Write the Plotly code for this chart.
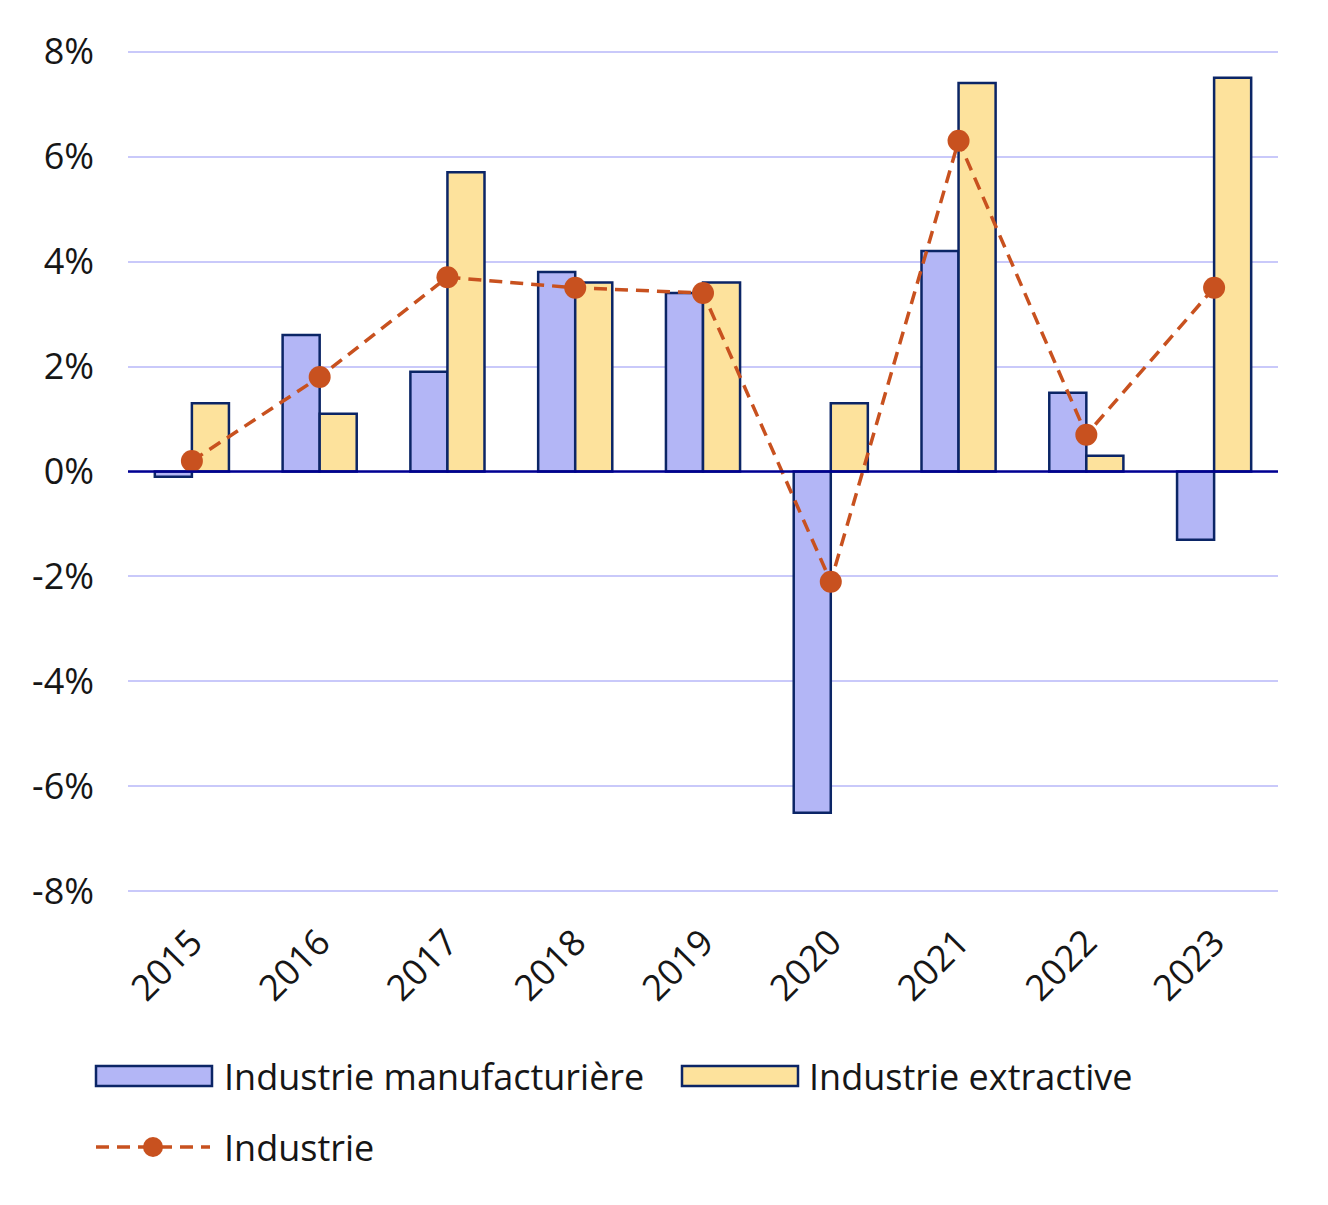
import plotly.graph_objects as go

years = ["2015", "2016", "2017", "2018", "2019", "2020", "2021", "2022", "2023"]
manufacturiere = [-0.1, 2.6, 1.9, 3.8, 3.4, -6.5, 4.2, 1.5, -1.3]
extractive = [1.3, 1.1, 5.7, 3.6, 3.6, 1.3, 7.4, 0.3, 7.5]
industrie = [0.2, 1.8, 3.7, 3.5, 3.4, -2.1, 6.3, 0.7, 3.5]
names = ["Industrie manufacturière", "Industrie extractive", "Industrie"]
ytick_vals = [-8, -6, -4, -2, 0, 2, 4, 6, 8]
ytick_text = ["-8%", "-6%", "-4%", "-2%", "0%", "2%", "4%", "6%", "8%"]

BLUE = "#b3b6f6"
YELLOW = "#fde29c"
OUTLINE = "#0b2566"
ORANGE = "#c8511f"
GRID = "#c9c9fa"
ZERO = "#000091"
FONT = "Open Sans"
FS = 36
TXT = "#161616"

fig = go.Figure()
fig.add_trace(go.Bar(x=years, y=manufacturiere, name=names[0], marker=dict(color=BLUE, line=dict(color=OUTLINE, width=2.5))))
fig.add_trace(go.Bar(x=years, y=extractive, name=names[1], marker=dict(color=YELLOW, line=dict(color=OUTLINE, width=2.5))))
fig.add_trace(go.Scatter(x=years, y=industrie, name=names[2], mode="lines+markers",
                         line=dict(color=ORANGE, width=3.5, dash="13px,8px"),
                         marker=dict(color=ORANGE, size=22)))

L, R, T, B = 128, 50, 50, 312
W, H = 1328, 1205
pw = W - L - R
ph = H - T - B

def px(x):
    return (x - L) / pw

def py(y):
    return (H - B - y) / ph

shapes = [
    dict(type="line", xref="paper", yref="y", x0=0, x1=1, y0=0, y1=0, line=dict(color=ZERO, width=2.5), layer="above"),
    # legend symbols
    dict(type="rect", xref="paper", yref="paper", x0=px(96), x1=px(212), y0=py(1066), y1=py(1086),
         fillcolor=BLUE, line=dict(color=OUTLINE, width=2.5)),
    dict(type="rect", xref="paper", yref="paper", x0=px(682), x1=px(798), y0=py(1066), y1=py(1086),
         fillcolor=YELLOW, line=dict(color=OUTLINE, width=2.5)),
    dict(type="line", xref="paper", yref="paper", x0=px(96), x1=px(210), y0=py(1147), y1=py(1147),
         line=dict(color=ORANGE, width=3.5, dash="13px,8px")),
    dict(type="circle", xref="paper", yref="paper", x0=px(143), x1=px(163), y0=py(1137), y1=py(1157),
         fillcolor=ORANGE, line=dict(color=ORANGE, width=0)),
]

annotations = [
    dict(xref="paper", yref="paper", x=px(222), y=py(1076), text=names[0], showarrow=False,
         xanchor="left", yanchor="middle", font=dict(family=FONT, size=FS, color=TXT)),
    dict(xref="paper", yref="paper", x=px(807), y=py(1076), text=names[1], showarrow=False,
         xanchor="left", yanchor="middle", font=dict(family=FONT, size=FS, color=TXT)),
    dict(xref="paper", yref="paper", x=px(222), y=py(1147), text=names[2], showarrow=False,
         xanchor="left", yanchor="middle", font=dict(family=FONT, size=FS, color=TXT)),
]

fig.update_layout(
    width=W, height=H,
    margin=dict(l=L, r=R, t=T, b=B),
    paper_bgcolor="white", plot_bgcolor="white",
    barmode="group", bargap=0.42, bargroupgap=0,
    showlegend=False,
    font=dict(family=FONT, size=FS, color=TXT),
    shapes=shapes, annotations=annotations,
    xaxis=dict(range=[-0.5, 8.5], tickangle=-45, showgrid=False, showline=False, zeroline=False,
               ticks="", ticklabelstandoff=20, tickfont=dict(family=FONT, size=FS, color=TXT)),
    yaxis=dict(range=[-8.03, 8.03], tickvals=ytick_vals, ticktext=ytick_text,
               showgrid=True, gridcolor=GRID, gridwidth=2, zeroline=False, showline=False,
               ticks="", ticklabelstandoff=33, tickfont=dict(family=FONT, size=FS, color=TXT)),
)

fig.write_html("out.html")
